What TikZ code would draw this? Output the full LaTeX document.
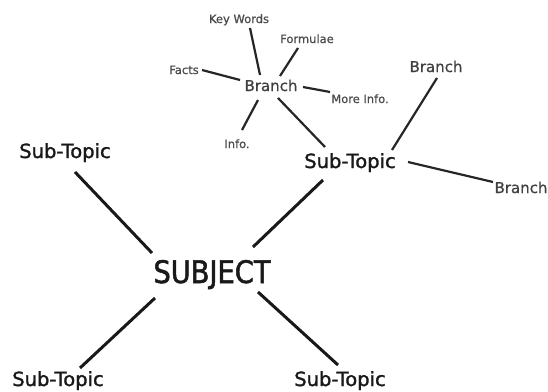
\documentclass[tikz,border=0pt]{standalone}
\usepackage{fontspec}
\setmainfont{DejaVu Sans}
\newfontfamily\subjfont{DejaVu Sans}[FakeStretch=0.88,FakeBold=1.6]
\newfontfamily\subfont{DejaVu Sans}[FakeBold=1.4]
\newfontfamily\smallfont{DejaVu Sans}[FakeBold=0.8]
\begin{document}
\begin{tikzpicture}[x=1pt,y=-1pt,
  lbl/.style={inner sep=0pt,anchor=base,text=black!90},
  tiny/.style={lbl,font=\smallfont\fontsize{11.5}{13}\selectfont,text=black!70},
  mid/.style={lbl,font=\smallfont\fontsize{15}{17}\selectfont,text=black!75},
  sub/.style={lbl,font=\subfont\fontsize{19.5}{22}\selectfont},
  big/.style={lbl,font=\subjfont\fontsize{31}{34}\selectfont},
  thin/.style={line width=2.2pt,black!85},
  thick/.style={line width=3pt,black!90}]
\useasboundingbox (0,0) rectangle (548,391);
\fill[white] (0,0) rectangle (548,391);
\node[tiny] (kw) at (239,23) {Key Words};
\node[tiny] (fo) at (307,43) {Formulae};
\node[tiny] (fa) at (184,74) {Facts};
\node[mid]  (br) at (271,91) {Branch};
\node[tiny] (mi) at (360,103) {More Info.};
\node[tiny] (in) at (237,148) {Info.};
\node[mid]  (bt) at (436,72) {Branch};
\node[sub]  (st2) at (350,168) {Sub-Topic};
\node[mid]  (bf) at (521,193) {Branch};
\node[sub]  (st1) at (65,158) {Sub-Topic};
\node[big]  (sj) at (212,283) {SUBJECT};
\node[sub]  (st3) at (58,386) {Sub-Topic};
\node[sub]  (st4) at (340,386) {Sub-Topic};
% small branch lines
\draw[thin] ([shift={(11,5)}]kw.base) -- ([shift={(-11,-16)}]br.base);
\draw[thin] ([shift={(-9,5)}]fo.base) -- ([shift={(9,-15)}]br.base);
\draw[thin] ([shift={(18,-4)}]fa.base) -- ([shift={(-31,-11)}]br.base);
\draw[thin] ([shift={(32,-4)}]br.base) -- ([shift={(-30,-11)}]mi.base);
\draw[thin] ([shift={(-13,9)}]br.base) -- ([shift={(5,-18)}]in.base);
\draw[thin] ([shift={(7,7)}]br.base) -- ([shift={(-25,-21)}]st2.base);
\draw[thin] ([shift={(1,6)}]bt.base) -- ([shift={(42,-18)}]st2.base);
\draw[thin] ([shift={(58,-6)}]st2.base) -- ([shift={(-28,-11)}]bf.base);
% main lines
\draw[thick] ([shift={(41,-36)}]sj.base) -- ([shift={(-27,12)}]st2.base);
\draw[thick] ([shift={(-60,-30)}]sj.base) -- ([shift={(10,14)}]st1.base);
\draw[thick] ([shift={(-57,15)}]sj.base) -- ([shift={(22,-18)}]st3.base);
\draw[thick] ([shift={(46,9)}]sj.base) -- ([shift={(-2,-21)}]st4.base);
\end{tikzpicture}
\end{document}
